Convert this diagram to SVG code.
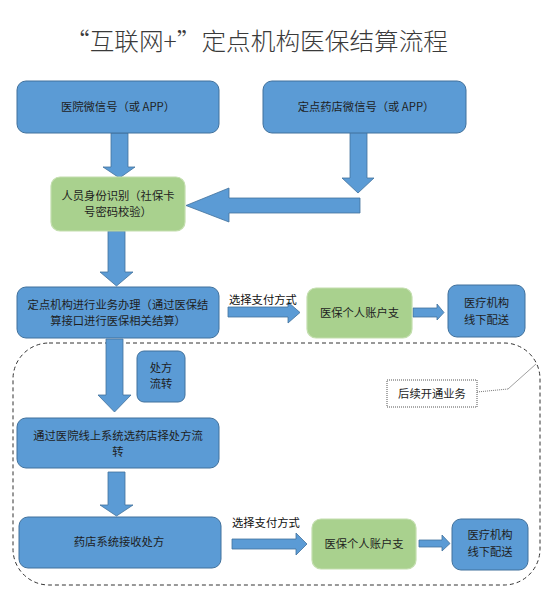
<svg xmlns="http://www.w3.org/2000/svg" width="554" height="592" viewBox="0 0 554 592">
<style>
.blue{fill:#5b9bd5;stroke:#41719c;stroke-width:1}
.green{fill:#a9d18e;stroke:#c3deae;stroke-width:1.2}
.arr{fill:#5b9bd5;stroke:#41719c;stroke-width:0.8}
.t{font-family:"Noto Sans CJK SC","Noto Sans",sans-serif;font-size:11.3px;fill:#1e1e1e;text-anchor:middle}
.l{font-family:"Noto Sans CJK SC","Noto Sans",sans-serif;font-size:11.3px;fill:#111}
.title{font-family:"Noto Sans CJK SC",sans-serif;font-size:24px;fill:#3a3a3a;font-weight:300}
</style>
<rect width="554" height="592" fill="#ffffff"/>
<text class="title" x="65" y="50" textLength="383" lengthAdjust="spacingAndGlyphs">“互联网+”定点机构医保结算流程</text>

<g id="region">
<rect x="13" y="343" width="527" height="242" rx="36" ry="36" fill="none" stroke="#333" stroke-width="1" stroke-dasharray="4,3"/>
</g>
<g id="callout">
<polyline points="477,392 508,389" fill="none" stroke="#777" stroke-width="1" stroke-dasharray="1,1"/>
<line x1="508" y1="389" x2="536" y2="364" stroke="#888" stroke-width="0.8"/>
<rect x="387" y="380" width="90" height="27" fill="#fff" stroke="#555" stroke-width="1" stroke-dasharray="1,1"/>
<text class="t" x="432" y="398">后续开通业务</text>
</g>

<g id="connectors">
<polygon class="arr" points="111,133 128,133 128,167 135,167 119.5,178 103,167 111,167"/>
<polygon class="arr" points="350,132 367,132 367,178 374,178 358,193 342,178 350,178"/>
<polygon class="arr" points="360,198 360,213 229,213 229,222 186,205.5 229,188 229,198"/>
<polygon class="arr" points="108,231 125,231 125,272 133,272 116.5,286 100,272 108,272"/>
<polygon class="arr" points="106,339 123,339 123,395 131,395 114.5,412 98,395 106,395"/>
<polygon class="arr" points="108,472 125,472 125,505 133,505 116.5,516 100,505 108,505"/>
<polygon class="arr" points="228,307 288,307 288,302 300,312.5 288,323 288,317 228,317"/>
<polygon class="arr" points="413,308 437,308 437,304 444,312.5 437,320 437,317 413,317"/>
<polygon class="arr" points="232,539 296,539 296,533 307,544 296,555 296,549 232,549"/>
<polygon class="arr" points="419,540 442,540 442,535 450,543.5 442,551 442,547 419,547"/>
<text class="l" x="229" y="304">选择支付方式</text>
<text class="l" x="232" y="527">选择支付方式</text>
</g>

<g id="hospital-wechat">
<rect class="blue" x="17" y="81" width="202" height="52" rx="9"/>
<text class="t" x="118" y="111">医院微信号（或 APP）</text>
</g>
<g id="pharmacy-wechat">
<rect class="blue" x="263" y="81" width="203" height="52" rx="9"/>
<text class="t" x="366" y="111">定点药店微信号（或 APP）</text>
</g>
<g id="identity">
<rect class="green" x="51" y="177" width="134" height="54" rx="9"/>
<text class="t" x="118" y="200">人员身份识别（社保卡</text>
<text class="t" x="118" y="216">号密码校验）</text>
</g>
<g id="business">
<rect class="blue" x="17" y="287" width="202" height="51" rx="9"/>
<text class="t" x="118" y="309">定点机构进行业务办理（通过医保结</text>
<text class="t" x="118" y="325">算接口进行医保相关结算）</text>
</g>
<g id="account1">
<rect class="green" x="307" y="288" width="105" height="50" rx="9"/>
<text class="t" x="359.5" y="317">医保个人账户支</text>
</g>
<g id="delivery1">
<rect class="blue" x="448" y="285" width="77" height="52" rx="9"/>
<text class="t" x="486.5" y="307">医疗机构</text>
<text class="t" x="486.5" y="324">线下配送</text>
</g>
<g id="prescription">
<rect class="blue" x="137" y="351" width="48" height="51" rx="7"/>
<text class="t" x="161" y="372">处方</text>
<text class="t" x="161" y="388">流转</text>
</g>
<g id="hospital-online">
<rect class="blue" x="17" y="418" width="202" height="50" rx="9"/>
<text class="t" x="118" y="440">通过医院线上系统选药店择处方流</text>
<text class="t" x="118" y="456">转</text>
</g>
<g id="pharmacy-receive">
<rect class="blue" x="19" y="517" width="202" height="51" rx="9"/>
<text class="t" x="119" y="546">药店系统接收处方</text>
</g>
<g id="account2">
<rect class="green" x="312" y="519" width="104" height="50" rx="9"/>
<text class="t" x="364" y="548">医保个人账户支</text>
</g>
<g id="delivery2">
<rect class="blue" x="452" y="519" width="76" height="51" rx="9"/>
<text class="t" x="490" y="539">医疗机构</text>
<text class="t" x="490" y="556">线下配送</text>
</g>
</svg>
